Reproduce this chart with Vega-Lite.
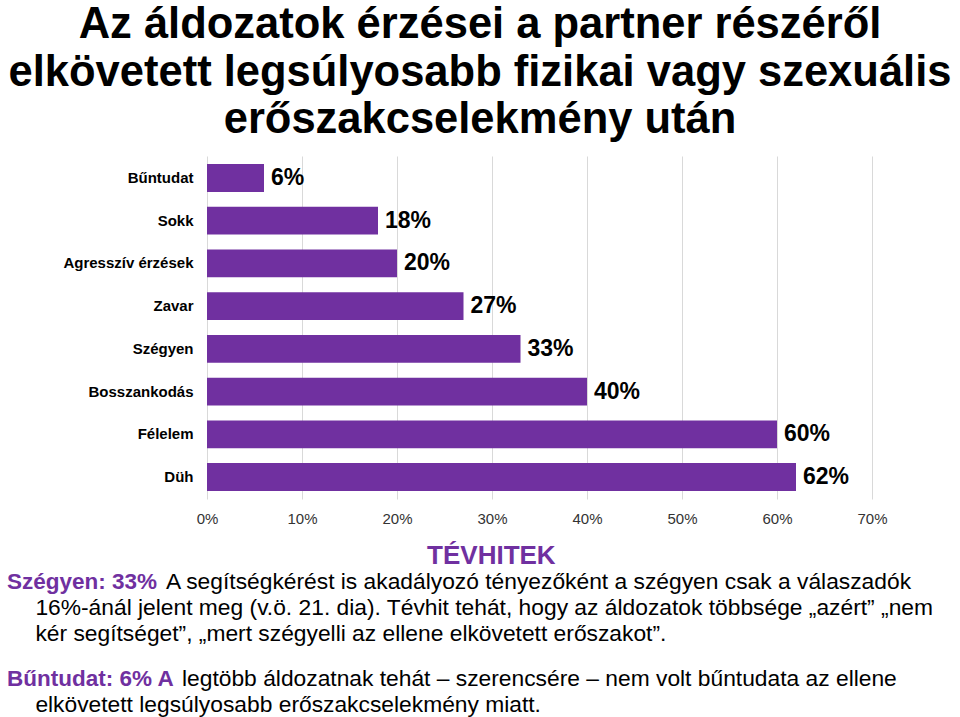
{
  "$schema": "https://vega.github.io/schema/vega-lite/v6.json",
  "background": "white",
  "padding": {"left": 7, "right": 7, "top": 3, "bottom": 0},
  "title": {
    "text": ["Az áldozatok érzései a partner részéről", "elkövetett legsúlyosabb fizikai vagy szexuális", "erőszakcselekmény után"],
    "fontSize": 43.5, "fontWeight": "bold", "font": "Liberation Sans", "lineHeight": 47.5,
    "color": "#000000", "anchor": "middle", "offset": 13.5
  },
  "config": {"view": {"stroke": null}, "font": "Liberation Sans"},
  "datasets": {
    "erzesek": [
      {"erzes": "Bűntudat", "arany": 0.06},
      {"erzes": "Sokk", "arany": 0.18},
      {"erzes": "Agresszív érzések", "arany": 0.20},
      {"erzes": "Zavar", "arany": 0.27},
      {"erzes": "Szégyen", "arany": 0.33},
      {"erzes": "Bosszankodás", "arany": 0.40},
      {"erzes": "Félelem", "arany": 0.60},
      {"erzes": "Düh", "arany": 0.62}
    ],
    "szoveg": [
      {"para": 1, "line": 0, "kind": "heading", "text": "TÉVHITEK"},
      {"para": 1, "line": 1, "kind": "lead", "text": "Szégyen: 33%"},
      {"para": 1, "line": 1, "kind": "first", "text": "A segítségkérést is akadályozó tényezőként a szégyen csak a válaszadók"},
      {"para": 1, "line": 2, "kind": "cont", "text": "16%-ánál jelent meg (v.ö. 21. dia). Tévhit tehát, hogy az áldozatok többsége „azért” „nem"},
      {"para": 1, "line": 3, "kind": "cont", "text": "kér segítséget”, „mert szégyelli az ellene elkövetett erőszakot”."},
      {"para": 2, "line": 1, "kind": "lead", "text": "Bűntudat: 6% A"},
      {"para": 2, "line": 1, "kind": "first", "text": "legtöbb áldozatnak tehát – szerencsére – nem volt bűntudata az ellene"},
      {"para": 2, "line": 2, "kind": "cont", "text": "elkövetett legsúlyosabb erőszakcselekmény miatt."}
    ]
  },
  "spacing": 17,
  "vconcat": [
    {
      "width": 665,
      "height": 343,
      "data": {"name": "erzesek"},
      "encoding": {
        "y": {
          "field": "erzes", "type": "nominal", "sort": null, "title": null,
          "scale": {"paddingInner": 0.35, "paddingOuter": 0.19},
          "axis": {"domain": false, "ticks": false, "grid": false, "labelFontSize": 15, "labelFontWeight": "bold", "labelColor": "#000000", "labelPadding": 14, "minExtent": 200, "maxExtent": 200}
        },
        "x": {
          "field": "arany", "type": "quantitative", "title": null,
          "scale": {"domain": [0, 0.7]},
          "axis": {"values": [0, 0.1, 0.2, 0.3, 0.4, 0.5, 0.6, 0.7], "format": ".0%", "domain": false, "ticks": false, "labelFontSize": 15, "labelColor": "#333333", "labelPadding": 12, "gridColor": "#d9d9d9", "labelFlush": false}
        }
      },
      "layer": [
        {"mark": {"type": "bar", "color": "#7030A0"}},
        {
          "mark": {"type": "text", "align": "left", "baseline": "middle", "dx": 7, "fontSize": 23, "fontWeight": "bold", "color": "#000000"},
          "encoding": {"text": {"field": "arany", "type": "quantitative", "format": ".0%"}}
        }
      ]
    },
    {
      "spacing": 19,
      "vconcat": [
        {
          "width": 746,
          "height": {"step": 26},
          "data": {"name": "szoveg"},
          "transform": [{"filter": "datum.para == 1"}],
          "encoding": {
            "y": {"field": "line", "type": "ordinal", "axis": null}
          },
          "layer": [
            {
              "transform": [{"filter": "datum.kind == 'heading'"}],
              "mark": {"type": "text", "align": "center", "baseline": "middle", "fontSize": 26, "fontWeight": "bold", "color": "#7030A0"},
              "encoding": {"x": {"datum": 51.2, "type": "quantitative", "scale": {"domain": [0, 100], "range": [-200, 746]}, "axis": null}, "text": {"field": "text"}}
            },
            {
              "transform": [{"filter": "datum.kind == 'lead'"}],
              "mark": {"type": "text", "align": "left", "baseline": "middle", "fontSize": 22.5, "fontWeight": "bold", "color": "#7030A0"},
              "encoding": {"x": {"datum": 0, "type": "quantitative", "scale": {"domain": [0, 100], "range": [-200, 746]}, "axis": null}, "text": {"field": "text"}}
            },
            {
              "transform": [{"filter": "datum.kind == 'first'"}],
              "mark": {"type": "text", "align": "left", "baseline": "middle", "fontSize": 22.8, "color": "#000000"},
              "encoding": {"x": {"datum": 16.8, "type": "quantitative", "scale": {"domain": [0, 100], "range": [-200, 746]}, "axis": null}, "text": {"field": "text"}}
            },
            {
              "transform": [{"filter": "datum.kind == 'cont'"}],
              "mark": {"type": "text", "align": "left", "baseline": "middle", "fontSize": 22.8, "color": "#000000"},
              "encoding": {"x": {"datum": 3, "type": "quantitative", "scale": {"domain": [0, 100], "range": [-200, 746]}, "axis": null}, "text": {"field": "text"}}
            }
          ]
        },
        {
          "width": 746,
          "height": {"step": 26},
          "data": {"name": "szoveg"},
          "transform": [{"filter": "datum.para == 2"}],
          "encoding": {
            "y": {"field": "line", "type": "ordinal", "axis": null}
          },
          "layer": [
            {
              "transform": [{"filter": "datum.kind == 'lead'"}],
              "mark": {"type": "text", "align": "left", "baseline": "middle", "fontSize": 22.5, "fontWeight": "bold", "color": "#7030A0"},
              "encoding": {"x": {"datum": 0, "type": "quantitative", "scale": {"domain": [0, 100], "range": [-200, 746]}, "axis": null}, "text": {"field": "text"}}
            },
            {
              "transform": [{"filter": "datum.kind == 'first'"}],
              "mark": {"type": "text", "align": "left", "baseline": "middle", "fontSize": 22.8, "color": "#000000"},
              "encoding": {"x": {"datum": 18.5, "type": "quantitative", "scale": {"domain": [0, 100], "range": [-200, 746]}, "axis": null}, "text": {"field": "text"}}
            },
            {
              "transform": [{"filter": "datum.kind == 'cont'"}],
              "mark": {"type": "text", "align": "left", "baseline": "middle", "fontSize": 22.8, "color": "#000000"},
              "encoding": {"x": {"datum": 3, "type": "quantitative", "scale": {"domain": [0, 100], "range": [-200, 746]}, "axis": null}, "text": {"field": "text"}}
            }
          ]
        }
      ]
    }
  ]
}
